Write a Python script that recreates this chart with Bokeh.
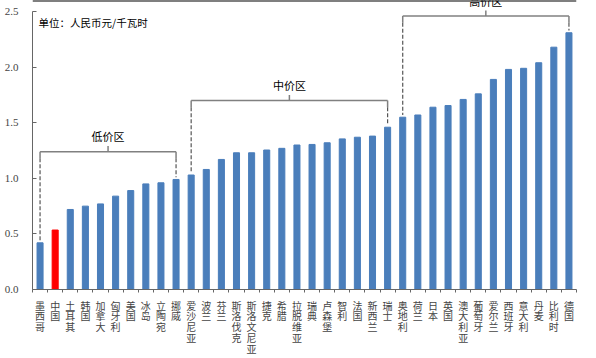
from bokeh.plotting import figure
from bokeh.models import FixedTicker, Range1d, Span
from bokeh.embed import file_html
from bokeh.resources import INLINE
from bokeh.core.properties import value

countries = ["墨西哥", "中国", "土耳其", "韩国", "加拿大", "匈牙利", "美国", "冰岛", "立陶宛", "挪威",
             "爱沙尼亚", "波兰", "芬兰", "斯洛伐克", "斯洛文尼亚", "捷克", "希腊", "拉脱维亚", "瑞典",
             "卢森堡", "智利", "法国", "新西兰", "瑞士", "奥地利", "荷兰", "日本", "英国", "澳大利亚",
             "葡萄牙", "爱尔兰", "西班牙", "意大利", "丹麦", "比利时", "德国"]
prices = [0.42, 0.535, 0.72, 0.75, 0.77, 0.84, 0.89, 0.95, 0.96, 0.99,
          1.03, 1.08, 1.17, 1.23, 1.23, 1.255, 1.27, 1.30, 1.305,
          1.32, 1.355, 1.37, 1.38, 1.46, 1.55, 1.57, 1.64, 1.655, 1.71,
          1.76, 1.89, 1.98, 1.99, 2.04, 2.18, 2.31]
highlight = "中国"

group_names = ["低价区", "中价区", "高价区"]
group_start = [0, 10, 24]
group_end = [9, 23, 35]
group_level = [1.24, 1.70, 2.46]

unit_text = "单位：人民币元/千瓦时"
y_ticks = [0.0, 0.5, 1.0, 1.5, 2.0, 2.5]

BLUE = "#4A7EBB"
RED = "#FF0000"
GRAY = "#808080"
CJK = "Noto Sans CJK SC"

n = len(countries)
xs = list(range(n))
colors = [RED if c == highlight else BLUE for c in countries]

p = figure(width=596, height=358, output_backend="svg", toolbar_location=None,
           x_range=Range1d(-0.5, n - 0.5), y_range=Range1d(0, 2.6),
           min_border_left=32, min_border_right=20, min_border_top=0, min_border_bottom=68)
p.outline_line_color = None
p.grid.visible = False
p.background_fill_color = "white"

p.vbar(x=xs, top=prices, width=0.4, color=colors)

# brackets
for name, s, e, lvl in zip(group_names, group_start, group_end, group_level):
    p.line([s, e], [lvl, lvl], line_color=GRAY, line_width=1.5)
    mid = (s + e) / 2
    p.line([mid, mid], [lvl, lvl + 0.05], line_color=GRAY, line_width=1.5)
    for i in (s, e):
        p.line([i, i], [lvl, lvl - 0.06], line_color=GRAY, line_width=1.5)
        p.line([i, i], [lvl - 0.06, prices[i] + 0.02], line_color="#555555",
               line_width=1.2, line_dash="4 2")
    p.text(x=[mid], y=[lvl + 0.14], text=[name], text_font=value(CJK), text_font_size="11px",
           text_align="center", text_baseline="middle", text_color="black")

p.text(x=[-0.1], y=[2.405], text=[unit_text], text_font=value(CJK), text_font_size="10.5px",
       text_align="left", text_baseline="middle", text_color="black")

p.add_layout(Span(location=2.6, dimension="width", line_color="black", line_width=2))

# axes
ya = p.yaxis[0]
ya.ticker = FixedTicker(ticks=y_ticks)
ya.bounds = (0, 2.5)
ya.major_label_overrides = {t: f"{t:.1f}" for t in y_ticks}
ya.major_label_text_font = "Liberation Serif"
ya.major_label_text_font_size = "11px"
ya.major_label_standoff = 14
ya.major_tick_in = 4
ya.major_tick_out = 0
ya.minor_tick_line_color = None
ya.axis_line_color = "#666666"
ya.major_tick_line_color = "#666666"

xa = p.xaxis[0]
xa.ticker = FixedTicker(ticks=xs, minor_ticks=[i - 0.5 for i in range(n + 1)])
xa.major_label_overrides = {i: "\n".join(c) for i, c in enumerate(countries)}
xa.major_label_text_font = CJK
xa.major_label_text_font_size = "10px"
xa.major_label_text_line_height = 0.72
xa.major_label_standoff = 5
xa.major_tick_line_color = None
xa.major_tick_in = 0
xa.major_tick_out = 0
xa.minor_tick_in = 0
xa.minor_tick_out = 3
xa.minor_tick_line_color = "#666666"
xa.axis_line_color = "#666666"

open("out.html", "w").write(file_html(p, INLINE))
